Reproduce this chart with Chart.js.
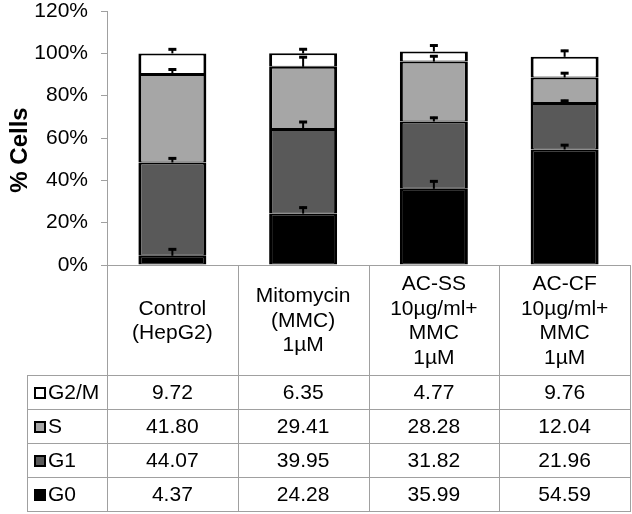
<!DOCTYPE html>
<html>
<head>
<meta charset="utf-8">
<script src="https://cdn.jsdelivr.net/npm/chart.js@4"></script>
<style>
  body { margin: 0; background: #fff; }
  canvas { display: block; }
</style>
</head>
<body>
<canvas id="cellcycle" width="632" height="514"></canvas>
<script>
// groups (table header lines)
var groups = [
    ['Control', '(HepG2)'],
    ['Mitomycin', '(MMC)', '1\u00b5M'],
    ['AC-SS', '10\u00b5g/ml+', 'MMC', '1\u00b5M'],
    ['AC-CF', '10\u00b5g/ml+', 'MMC', '1\u00b5M']
];

// % of cells per phase
var g0  = [4.37, 24.28, 35.99, 54.59];
var g1  = [44.07, 39.95, 31.82, 21.96];
var s   = [41.80, 29.41, 28.28, 12.04];
var g2m = [9.72, 6.35, 4.77, 9.76];

// error bars (upper side only)
var errG0  = [3.5, 3.3, 4.0, 2.5];
var errG1  = [2.4, 3.8, 2.2, 1.5];
var errS   = [2.6, 5.0, 3.0, 2.5];
var errG2m = [2.4, 2.4, 3.3, 3.3];

var yTicks = [0, 20, 40, 60, 80, 100, 120];

var FONT = '"Liberation Sans", Arial, sans-serif';
var LINE = '#a0a0a0';

var phases = [
    {label: 'G0',   data: g0,  color: '#000000', err: errG0},
    {label: 'G1',   data: g1,  color: '#595959', err: errG1},
    {label: 'S',    data: s,   color: '#a6a6a6', err: errS},
    {label: 'G2/M', data: g2m, color: '#ffffff', err: errG2m}
];

// draws error bars on top of each stacked segment
var errorBars = {
    id: 'errorBars',
    afterDatasetsDraw: function (chart) {
        var ctx = chart.ctx;
        var y = chart.scales.y;
        ctx.save();
        ctx.strokeStyle = '#000';
        for (var d = 0; d < phases.length; d++) {
            var meta = chart.getDatasetMeta(d);
            meta.data.forEach(function (bar, i) {
                var cum = 0;
                for (var k = 0; k <= d; k++) cum += phases[k].data[i];
                var yTop = y.getPixelForValue(cum + phases[d].err[i]);
                ctx.lineWidth = 2;
                ctx.beginPath();
                ctx.moveTo(bar.x, bar.y);
                ctx.lineTo(bar.x, yTop);
                ctx.stroke();
                ctx.lineWidth = 3;
                ctx.beginPath();
                ctx.moveTo(bar.x - 4, yTop + 1);
                ctx.lineTo(bar.x + 4, yTop + 1);
                ctx.stroke();
            });
        }
        ctx.restore();
    }
};

// data table under the plot + y title
var dataTable = {
    id: 'dataTable',
    afterDraw: function (chart) {
        var ctx = chart.ctx;
        var xs = chart.scales.x;
        var area = chart.chartArea;
        var colW = xs.width / groups.length;
        var headTop = area.bottom;
        var headBottom = 375;
        var rowH = 34;
        var tableLeft = 27;
        var rows = phases.slice().reverse();
        var tableBottom = headBottom + rowH * rows.length;

        ctx.save();
        ctx.strokeStyle = LINE;
        ctx.lineWidth = 1;

        // vertical lines
        for (var i = 0; i <= groups.length; i++) {
            var lx = Math.round(area.left + i * colW) + 0.5;
            ctx.beginPath();
            ctx.moveTo(lx, headTop);
            ctx.lineTo(lx, tableBottom);
            ctx.stroke();
        }
        ctx.beginPath();
        ctx.moveTo(tableLeft + 0.5, headBottom);
        ctx.lineTo(tableLeft + 0.5, tableBottom);
        ctx.stroke();

        // horizontal lines
        for (var r = 0; r <= rows.length; r++) {
            var ly = headBottom + r * rowH + 0.5;
            ctx.beginPath();
            ctx.moveTo(tableLeft, ly);
            ctx.lineTo(area.right + 1, ly);
            ctx.stroke();
        }

        ctx.fillStyle = '#000';
        ctx.font = '21px ' + FONT;
        ctx.textAlign = 'center';
        ctx.textBaseline = 'middle';

        // header cells
        groups.forEach(function (lines, i) {
            var cx = xs.getPixelForValue(i);
            var lh = 24.5;
            var cy = (headTop + headBottom) / 2 + 1;
            var y0 = cy - (lines.length - 1) * lh / 2;
            lines.forEach(function (t, j) {
                ctx.fillText(t, cx, y0 + j * lh);
            });
        });

        // data rows
        rows.forEach(function (p, r) {
            var cy = headBottom + r * rowH + rowH / 2 + 1;
            ctx.fillStyle = p.color;
            ctx.fillRect(35, cy - 5, 10, 10);
            ctx.strokeStyle = '#000';
            ctx.lineWidth = 2;
            ctx.strokeRect(35, cy - 5, 10, 10);
            ctx.fillStyle = '#000';
            ctx.textAlign = 'left';
            ctx.fillText(p.label, 48, cy);
            ctx.textAlign = 'center';
            p.data.forEach(function (v, i) {
                ctx.fillText(v.toFixed(2), xs.getPixelForValue(i), cy);
            });
        });

        // y axis title
        ctx.translate(20, 150);
        ctx.rotate(-Math.PI / 2);
        ctx.font = 'bold 24px ' + FONT;
        ctx.fillText('% Cells', 0, 0);
        ctx.restore();
    }
};

var chart = new Chart(document.getElementById('cellcycle'), {
    type: 'bar',
    data: {
        labels: groups.map(function (g) { return g.join(' '); }),
        datasets: phases.map(function (p) {
            return {
                label: p.label,
                data: p.data,
                backgroundColor: p.color,
                borderColor: '#000',
                borderWidth: {top: 2, left: 3, right: 3, bottom: 1},
                borderSkipped: false,
                inflateAmount: 0,
                categoryPercentage: 1.0,
                barPercentage: 0.52
            };
        })
    },
    options: {
        responsive: false,
        animation: false,
        devicePixelRatio: 1,
        layout: {
            padding: {top: 2, right: 2, bottom: 249, left: 0}
        },
        plugins: {
            legend: {display: false},
            tooltip: {enabled: false}
        },
        scales: {
            x: {
                stacked: true,
                border: {color: LINE, width: 1},
                grid: {drawOnChartArea: false, drawTicks: false},
                ticks: {display: false},
                afterFit: function (scale) { scale.height = 0; }
            },
            y: {
                stacked: true,
                min: 0,
                max: 120,
                afterBuildTicks: function (scale) {
                    scale.ticks = yTicks.map(function (v) { return {value: v}; });
                },
                border: {color: LINE, width: 1},
                grid: {drawOnChartArea: false, drawTicks: true, tickLength: 6, color: LINE},
                ticks: {
                    padding: 13,
                    color: '#000',
                    font: {family: FONT, size: 21},
                    callback: function (value) { return value + '%'; }
                },
                afterFit: function (scale) {
                    scale.width = 107;
                    scale.paddingTop = 11;
                    scale.paddingBottom = 0;
                }
            }
        }
    },
    plugins: [errorBars, dataTable]
});
</script>
</body>
</html>
